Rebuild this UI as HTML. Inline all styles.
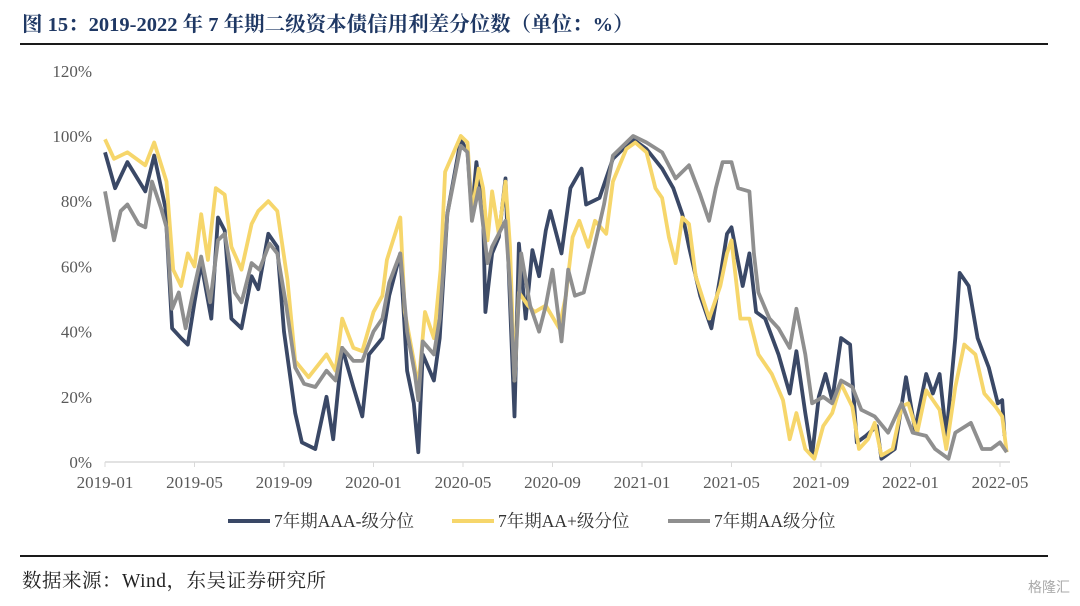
<!DOCTYPE html>
<html><head><meta charset="utf-8">
<style>
html,body{margin:0;padding:0;background:#fff;}
body{width:1080px;height:606px;position:relative;overflow:hidden;font-family:"Liberation Serif","Noto Serif CJK SC",serif;}
#title{position:absolute;left:22px;top:7px;font-size:20.5px;font-weight:bold;color:#1f3864;white-space:nowrap;}
#src{position:absolute;left:22px;top:565px;font-size:19.5px;color:#222;white-space:nowrap;letter-spacing:0.5px;}
#wm{position:absolute;right:10px;top:577px;font-size:14px;color:#aaa;font-family:"Liberation Sans","Noto Sans CJK SC",sans-serif;}
</style></head>
<body>
<div id="title">图 15：2019-2022 年 7 年期二级资本债信用利差分位数（单位：%）</div>
<svg id="chart" width="1080" height="606" style="position:absolute;left:0;top:0">
<line x1="20" y1="44" x2="1048" y2="44" stroke="#1a1a1a" stroke-width="2"/>
<line x1="20" y1="556" x2="1048" y2="556" stroke="#1a1a1a" stroke-width="2"/>
<g id="axes"></g>
<g id="series"></g>
<g id="legend"></g>
</svg>
<div id="src">数据来源：Wind，东吴证券研究所</div>
<div id="wm">格隆汇</div>
<script>
const xTickLabels=["2019-01","2019-05","2019-09","2020-01","2020-05","2020-09","2021-01","2021-05","2021-09","2022-01","2022-05"];
const yTickValues=[0,20,40,60,80,100,120];
const seriesNames=["7年期AAA-级分位","7年期AA+级分位","7年期AA级分位"];
// t = months since 2019-01
const aaaT=[0,0.45,1.0,1.8,2.2,2.7,3.0,3.4,3.7,4.0,4.3,4.75,5.05,5.35,5.65,6.1,6.55,6.85,7.3,7.7,8.0,8.5,8.8,9.4,9.9,10.2,10.6,11.1,11.5,11.8,12.4,12.7,13.2,13.5,13.8,14.0,14.2,14.7,14.96,15.3,15.9,16.2,16.4,16.6,16.9,17.0,17.3,17.6,17.9,18.0,18.3,18.5,18.8,19.1,19.4,19.7,19.9,20.4,20.8,21.3,21.5,22.1,22.7,23.6,24.2,24.9,25.4,25.8,26.1,26.6,27.1,27.5,27.8,28.0,28.5,28.8,29.1,29.5,30.1,30.6,30.9,31.3,31.6,31.9,32.2,32.5,32.9,33.3,33.6,34.0,34.5,34.7,35.3,35.8,36.2,36.7,37.0,37.3,37.6,38.0,38.2,38.6,39.0,39.5,39.9,40.1,40.2];
const aaaV=[95,84,92,83,94,78,41,38,36,49,61,44,75,71,44,41,57,53,70,66,40,15,6,4,20,7,35,23,14,33,38,51,64,28,18,3,33,25,38,76,99,95,76,92,76,46,64,69,87,66,14,67,44,65,57,71,77,64,84,90,79,81,93,99,96,90,84,76,66,51,41,57,70,72,54,64,46,44,33,21,34,15,2,20,27,19,38,36,6,8,11,1,4,26,10,27,21,27,8,38,58,54,38,29,18,19,8];
const aapT=[0,0.4,1.0,1.8,2.2,2.75,3.05,3.4,3.7,4.0,4.3,4.6,4.95,5.35,5.65,6.1,6.55,6.85,7.3,7.7,8.15,8.5,9.1,9.9,10.3,10.6,11.1,11.5,12.0,12.4,12.6,13.2,13.4,13.8,14.0,14.3,14.7,15.0,15.2,15.9,16.2,16.4,16.7,16.9,17.1,17.3,17.6,17.9,18.1,18.3,18.5,18.9,19.2,19.7,20.3,20.6,20.9,21.2,21.6,21.9,22.4,22.7,23.3,23.7,24.2,24.6,24.9,25.2,25.5,25.8,26.1,26.4,27.0,27.5,27.8,28.0,28.4,28.8,29.2,29.8,30.3,30.6,30.9,31.3,31.7,32.1,32.5,32.9,33.4,33.7,34.1,34.4,34.7,35.2,35.6,35.9,36.3,36.7,37.3,37.6,38.0,38.4,38.9,39.3,39.8,40.1,40.3];
const aapV=[99,93,95,91,98,86,59,54,64,60,76,62,84,82,66,59,73,77,80,77,56,31,26,33,28,44,35,34,46,51,62,75,46,31,23,46,38,59,89,100,98,76,90,84,68,83,70,86,66,25,52,48,46,48,41,51,69,74,66,74,70,86,96,98,95,84,81,69,61,75,73,57,44,54,64,68,44,44,33,27,19,7,15,4,1,11,15,24,17,4,7,12,2,4,17,18,9,22,16,4,23,36,33,21,17,14,3];
const aaT=[0,0.4,0.7,1.0,1.5,1.8,2.1,2.5,2.75,3.0,3.3,3.6,4.0,4.3,4.7,5.05,5.35,5.8,6.1,6.55,6.9,7.35,7.7,8.1,8.5,8.9,9.4,9.9,10.3,10.6,11.1,11.5,12.0,12.4,12.7,13.2,13.5,13.85,14.0,14.2,14.7,14.96,15.3,15.9,16.2,16.4,16.7,17.1,17.3,17.6,17.9,18.1,18.3,18.6,19.0,19.4,19.7,20.0,20.4,20.7,21.0,21.4,21.8,22.3,22.7,23.6,24.2,24.9,25.5,26.1,26.6,27.0,27.3,27.6,28.0,28.3,28.8,29.0,29.2,29.7,30.1,30.6,30.9,31.3,31.6,32.1,32.5,32.9,33.4,33.8,34.4,35.0,35.6,36.1,36.7,37.1,37.7,38.0,38.7,39.2,39.6,40.0,40.3];
const aaV=[83,68,77,79,73,72,86,78,72,47,52,41,54,63,49,68,70,52,49,61,59,67,64,48,29,24,23,28,25,35,31,31,40,44,55,64,40,27,19,37,33,44,76,97,95,74,84,61,66,70,74,54,25,64,48,40,48,59,37,59,51,52,64,79,94,100,98,95,87,91,82,74,84,92,92,84,83,64,52,44,41,35,47,33,18,20,18,25,23,16,14,9,18,9,8,4,1,9,12,4,4,6,3];

const svg=document.getElementById('chart');
const NS='http://www.w3.org/2000/svg';
const X0=105,PXM=22.375,Y0=462,PXV=3.26;
function xs(t){return X0+t*PXM;}
function ys(v){return Y0-v*PXV;}
function mk(tag,attrs,parent){const e=document.createElementNS(NS,tag);for(const k in attrs)e.setAttribute(k,attrs[k]);parent.appendChild(e);return e;}
const axes=document.getElementById('axes');
const ax=mk('line',{x1:X0,y1:Y0,x2:1010,y2:Y0,stroke:'#d9d9d9','stroke-width':1.5},axes);


yTickValues.forEach(v=>{
  const t=mk('text',{x:92,y:ys(v)+6,'text-anchor':'end','font-size':17,fill:'#595959','font-family':'Liberation Serif, serif'},axes);
  t.textContent=v+'%';
  
  
});
xTickLabels.forEach((l,i)=>{
  const x=xs(i*4);
  const tk=mk('line',{x1:x,y1:Y0,x2:x,y2:Y0+5,stroke:'#d9d9d9','stroke-width':1},axes);
  
  
  const t=mk('text',{x:x,y:488,'text-anchor':'middle','font-size':17,fill:'#595959','font-family':'Liberation Serif, serif'},axes);
  t.textContent=l;
  
  
});
const colors=['#3a4866','#f6d66b','#8f8f8f'];
const sets=[[aaaT,aaaV],[aapT,aapV],[aaT,aaV]];
const names=['series-aaa-minus','series-aa-plus','series-aa'];
const g=document.getElementById('series');
sets.forEach((s,i)=>{
  const d=s[0].map((t,j)=>(j?'L':'M')+xs(t).toFixed(1)+' '+ys(s[1][j]).toFixed(1)).join(' ');
  const p=mk('path',{d:d,fill:'none',stroke:colors[i],'stroke-width':3.8,'stroke-linejoin':'round'},g);
  
  
});
const lg=document.getElementById('legend');
const lx=[228,452,668];
seriesNames.forEach((n,i)=>{
  const l=mk('line',{x1:lx[i],y1:521,x2:lx[i]+42,y2:521,stroke:colors[i],'stroke-width':4},lg);
  
  
  const t=mk('text',{x:lx[i]+46,y:527,'font-size':17.5,fill:'#333','font-family':'Liberation Serif, Noto Serif CJK SC, serif'},lg);
  t.textContent=n;
  
  
});
</script>
</body></html>
